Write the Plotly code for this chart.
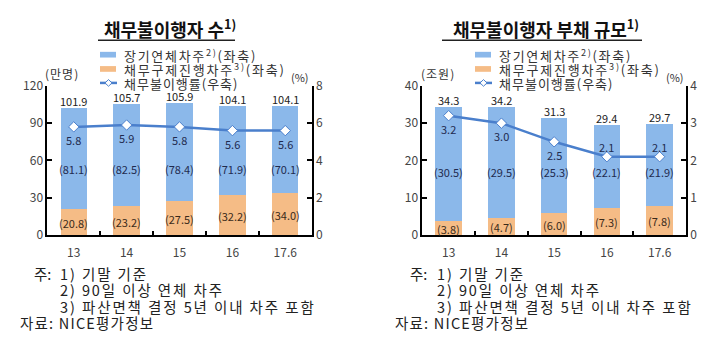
import plotly.graph_objects as go

# ---------------- data ----------------
categories = ["13", "14", "15", "16", "17.6"]

# left chart: number of defaulters (만명)
cnt_long = [81.1, 82.5, 78.4, 71.9, 70.1]       # 장기연체차주
cnt_relief = [20.8, 23.2, 27.5, 32.2, 34.0]     # 채무구제진행차주
cnt_total = [101.9, 105.7, 105.9, 104.1, 104.1]
cnt_rate = [5.8, 5.9, 5.8, 5.6, 5.6]            # 채무불이행률 (%)

# right chart: debt size (조원)
debt_long = [30.5, 29.5, 25.3, 22.1, 21.9]
debt_relief = [3.8, 4.7, 6.0, 7.3, 7.8]
debt_total = [34.3, 34.2, 31.3, 29.4, 29.7]
debt_rate = [3.2, 3.0, 2.5, 2.1, 2.1]

left_ticks = [0, 30, 60, 90, 120]
left_rticks = [0, 2, 4, 6, 8]
right_ticks = [0, 10, 20, 30, 40]
right_rticks = [0, 1, 2, 3, 4]

# ---------------- style ----------------
W, H = 720, 345
BLUE = "#8bb8ea"
ORANGE = "#f5bc86"
LINE = "#4a7fcc"
FONT = "Noto Sans CJK KR"
NAVY = "#1f2b4f"


def px(x):
    return x / W


def py(y):
    return 1 - y / H


fig = go.Figure()

panels = [
    dict(xa="x", ya="y", ya2="y2", long=cnt_long, relief=cnt_relief, total=cnt_total,
         rate=cnt_rate, blue_label_y=53, rate_pos=["b", "b", "b", "b", "b"]),
    dict(xa="x2", ya="y3", ya2="y4", long=debt_long, relief=debt_relief, total=debt_total,
         rate=debt_rate, blue_label_y=16.8, rate_pos=["b", "b", "b", "a", "a"]),
]

annotations = []
for p in panels:
    fig.add_trace(go.Bar(x=categories, y=p["relief"], xaxis=p["xa"], yaxis=p["ya"],
                         marker=dict(color=ORANGE, line=dict(width=0)), width=0.5,
                         showlegend=False, hoverinfo="skip"))
    fig.add_trace(go.Bar(x=categories, y=p["long"], xaxis=p["xa"], yaxis=p["ya"],
                         marker=dict(color=BLUE, line=dict(width=0)), width=0.5,
                         showlegend=False, hoverinfo="skip"))
    fig.add_trace(go.Scatter(x=categories, y=p["rate"], xaxis=p["xa"], yaxis=p["ya2"],
                             mode="lines+markers",
                             line=dict(color=LINE, width=2.5),
                             marker=dict(symbol="diamond", size=8, color="white",
                                         line=dict(color=LINE, width=1)),
                             showlegend=False, hoverinfo="skip"))
    for i, c in enumerate(categories):
        # totals on top
        annotations.append(dict(x=i, y=p["total"][i], xref=p["xa"], yref=p["ya"],
                                text=f"{p['total'][i]:.1f}", showarrow=False, yshift=7,
                                font=dict(size=11, color="#222", family=FONT)))
        # blue segment label
        annotations.append(dict(x=i, y=p["blue_label_y"], xref=p["xa"], yref=p["ya"],
                                text=f"({p['long'][i]:.1f})", showarrow=False,
                                font=dict(size=11, color=NAVY, family=FONT)))
        # orange segment label
        annotations.append(dict(x=i, y=p["relief"][i] / 2, xref=p["xa"], yref=p["ya"],
                                text=f"({p['relief'][i]:.1f})", showarrow=False, yshift=-1,
                                font=dict(size=11, color="#3a2a1a", family=FONT)))
        # rate label
        shift = -13 if p["rate_pos"][i] == "b" else 10
        annotations.append(dict(x=i, y=p["rate"][i], xref=p["xa"], yref=p["ya2"],
                                text=f"{p['rate'][i]:.1f}", showarrow=False, yshift=shift,
                                font=dict(size=11, color=NAVY, family=FONT)))

ydom = [py(236.7), py(79.8)]
axis_common = dict(showline=True, linecolor="black", linewidth=1.6, ticks="inside",
                   ticklen=5, tickwidth=1.6, tickcolor="black", showgrid=False,
                   zeroline=False, tickfont=dict(size=12, color="#444", family=FONT),
                   fixedrange=True)
xaxis_common = dict(axis_common, type="category", tickson="boundaries", ticklen=4,
                    range=[-0.5, len(categories) - 0.5], tickangle=0,
                    ticklabelstandoff=6,
                    tickfont=dict(size=12, color="#444", family=FONT))

fig.update_layout(
    xaxis=dict(xaxis_common, domain=[px(47.3), px(311.7)], anchor="y"),
    yaxis=dict(axis_common, domain=ydom, range=[0, 120], tickvals=left_ticks, anchor="x"),
    yaxis2=dict(axis_common, range=[0, 8], tickvals=left_rticks, overlaying="y",
                side="right", anchor="x"),
    xaxis2=dict(xaxis_common, domain=[px(422.3), px(686)], anchor="y3"),
    yaxis3=dict(axis_common, domain=ydom, range=[0, 40], tickvals=right_ticks, anchor="x2"),
    yaxis4=dict(axis_common, range=[0, 4], tickvals=right_rticks, overlaying="y3",
                side="right", anchor="x2"),
    barmode="stack",
    width=W, height=H,
    margin=dict(l=0, r=0, t=0, b=0),
    paper_bgcolor="white", plot_bgcolor="rgba(0,0,0,0)",
    showlegend=False,
    font=dict(family=FONT),
)

shapes = []


def text(x, y, s, size=13, color="#333", anchor="left", bold=False, spacing=0):
    if bold:
        s = f"<b>{s}</b>"
    if spacing:
        s = f'<span style="letter-spacing:{spacing}px">{s}</span>'
    annotations.append(dict(x=px(x), y=py(y), xref="paper", yref="paper",
                            text=s, showarrow=False,
                            xanchor=anchor, yanchor="middle",
                            font=dict(size=size, color=color, family=FONT)))


# titles
text(170, 19, "채무불이행자 수<sup>1)</sup>", size=18, color="#111", anchor="center", bold=True)
text(546, 19, "채무불이행자 부채 규모<sup>1)</sup>", size=18, color="#111", anchor="center", bold=True)
for x0, x1 in [(98, 235), (442, 642)]:
    shapes.append(dict(type="line", xref="paper", yref="paper", x0=px(x0), x1=px(x1),
                       y0=py(31.7), y1=py(31.7), line=dict(color="#222", width=1.5)))

# legends
for lx, tx in [(100, 122), (475, 497)]:
    shapes.append(dict(type="rect", xref="paper", yref="paper", x0=px(lx), x1=px(lx + 16),
                       y0=py(50), y1=py(44), fillcolor=BLUE, line=dict(width=0)))
    shapes.append(dict(type="rect", xref="paper", yref="paper", x0=px(lx), x1=px(lx + 16),
                       y0=py(65), y1=py(59), fillcolor=ORANGE, line=dict(width=0)))
    shapes.append(dict(type="line", xref="paper", yref="paper", x0=px(lx), x1=px(lx + 17),
                       y0=py(76.7), y1=py(76.7), line=dict(color=LINE, width=2.5)))
    cx, cy, d = lx + 8.5, 76.7, 3.5
    shapes.append(dict(type="path", xref="paper", yref="paper",
                       path=f"M {px(cx - d)} {py(cy)} L {px(cx)} {py(cy - d)} L {px(cx + d)} {py(cy)} L {px(cx)} {py(cy + d)} Z",
                       fillcolor="white", line=dict(color=LINE, width=1)))
    text(tx, 47, "장기연체차주<sup>2)</sup>(좌축)", size=13, spacing=1.7)
    text(tx, 62, "채무구제진행차주<sup>3)</sup>(좌축)", size=13, spacing=1.8)
    text(tx, 77, "채무불이행률(우축)", size=13, spacing=1.0)

# units
text(62, 67, "(만명)", size=12, color="#333", anchor="center", spacing=1)
text(300, 70, "(%)", size=11, color="#333", anchor="center")
text(438, 67, "(조원)", size=12, color="#333", anchor="center", spacing=1)
text(675, 70, "(%)", size=11, color="#333", anchor="center")

# notes
for base, xi, xs in [(32, 58, 18), (408, 435, 393)]:
    text(base, 276.7, "주:", size=14.5, color="#222")
    text(xi, 276.7, "1) 기말 기준", size=14.5, color="#222", spacing=1.9)
    text(xi, 294, "2) 90일 이상 연체 차주", size=14.5, color="#222", spacing=1.9)
    text(xi, 311.5, "3) 파산면책 결정 5년 이내 차주 포함", size=14.5, color="#222", spacing=1.9)
    text(xs, 329, "자료: NICE평가정보", size=14.5, color="#222", spacing=1.2)

fig.update_layout(annotations=annotations, shapes=shapes)
fig.write_html("out.html")
